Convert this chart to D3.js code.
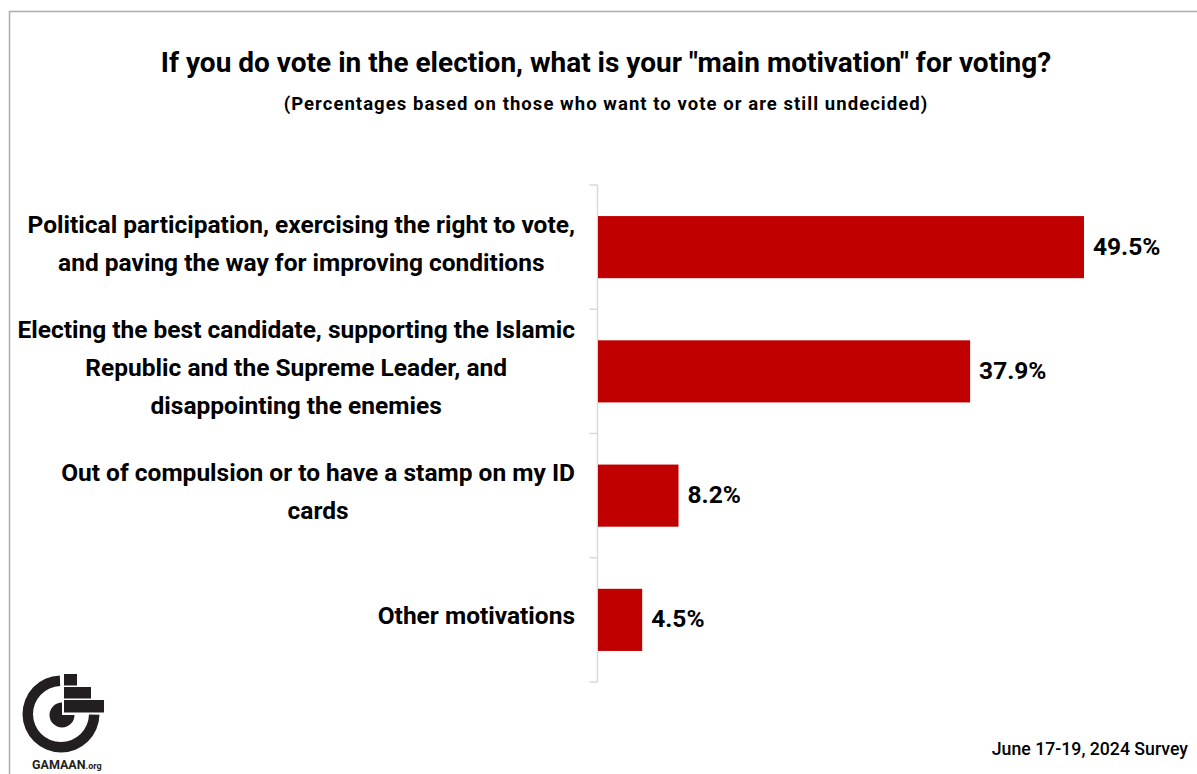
<!DOCTYPE html>
<html>
<head>
<meta charset="utf-8">
<script src="https://cdn.jsdelivr.net/npm/d3@7"></script>
<style>
  html, body { margin: 0; padding: 0; background: #fff; }
  svg { display: block; font-family: Roboto, "Liberation Sans", sans-serif; }
</style>
</head>
<body>
<svg id="chart" width="1197" height="774"></svg>
<script>
// Survey question, answer categories and their shares (percent)
const title = 'If you do vote in the election, what is your "main motivation" for voting?';
const subtitle = "(Percentages based on those who want to vote or are still undecided)";
const categories = [
  "Political participation, exercising the right to vote,|and paving the way for improving conditions",
  "Electing the best candidate, supporting the Islamic|Republic and the Supreme Leader, and|disappointing the enemies",
  "Out of compulsion or to have a stamp on my ID|cards",
  "Other motivations"
];
const values = [49.5, 37.9, 8.2, 4.5];
const footnote = "June 17-19, 2024 Survey";

const svg = d3.select("#chart");
const barColor = "#c00000";

// frame
svg.append("path")
  .attr("d", "M9.5,774 V11.5 H1197")
  .attr("fill", "none")
  .attr("stroke", "#ababab")
  .attr("stroke-width", 1.5);

// titles
svg.append("text")
  .attr("x", 606).attr("y", 72)
  .attr("text-anchor", "middle")
  .attr("font-size", 28).attr("font-weight", 700).attr("fill", "#000")
  .text(title);
svg.append("text")
  .attr("x", 606).attr("y", 110)
  .attr("text-anchor", "middle")
  .attr("font-size", 18.5).attr("font-weight", 700).attr("fill", "#000")
  .attr("letter-spacing", 1.05)
  .text(subtitle);

// scales
const y = d3.scaleBand()
  .domain(categories)
  .range([185, 682])
  .paddingInner(0.5)
  .paddingOuter(0.25);
const x = d3.scaleLinear()
  .domain([0, 60])
  .range([598, 598 + 60 * (486 / 49.5)]);

// category axis line with ticks at band boundaries
const axisX = 597.5;
const gap = y.step() * y.paddingInner() / 2;
const bounds = categories.map(c => y(c) - gap);
bounds.push(y(categories[categories.length - 1]) + y.bandwidth() + gap);
svg.append("line")
  .attr("x1", axisX).attr("x2", axisX)
  .attr("y1", bounds[0]).attr("y2", bounds[bounds.length - 1])
  .attr("stroke", "#d9d9d9").attr("stroke-width", 1.5);
svg.selectAll("line.tick").data(bounds).join("line")
  .attr("class", "tick")
  .attr("x1", axisX - 8).attr("x2", axisX)
  .attr("y1", d => d).attr("y2", d => d)
  .attr("stroke", "#d9d9d9").attr("stroke-width", 1.5);

// bars
svg.selectAll("rect.bar").data(values).join("rect")
  .attr("class", "bar")
  .attr("x", x(0))
  .attr("y", (d, i) => y(categories[i]))
  .attr("width", d => x(d) - x(0))
  .attr("height", y.bandwidth())
  .attr("fill", barColor);

// value labels
svg.selectAll("text.val").data(values).join("text")
  .attr("class", "val")
  .attr("x", d => x(d) + 9)
  .attr("y", (d, i) => y(categories[i]) + y.bandwidth() / 2 + 7.5)
  .attr("font-size", 24.5).attr("font-weight", 700).attr("fill", "#000")
  .text(d => d.toFixed(1) + "%");

// category labels: lines centred within the block, block right-aligned to the axis
const lineH = 38;
const labelRight = 575;
categories.forEach(c => {
  const lines = c.split("|");
  const g = svg.append("g");
  const cy = y(c) + y.bandwidth() / 2 - 3;
  const t = g.selectAll("text").data(lines).join("text")
    .attr("y", (d, i) => cy + (i - (lines.length - 1) / 2) * lineH + 7.5)
    .attr("text-anchor", "middle")
    .attr("font-size", 24.5).attr("font-weight", 700).attr("fill", "#000")
    .text(d => d);
  let w = 0;
  t.each(function() { w = Math.max(w, this.getComputedTextLength()); });
  t.attr("x", labelRight - w / 2);
});

// footnote
svg.append("text")
  .attr("x", 1188).attr("y", 755)
  .attr("text-anchor", "end")
  .attr("font-size", 17.7).attr("font-weight", 500).attr("fill", "#000")
  .text(footnote);

// GAMAAN logo
const logo = svg.append("g").attr("fill", "#231f20");
const cx = 61, cyL = 714;
logo.append("path")
  .attr("transform", `translate(${cx},${cyL})`)
  .attr("d", d3.arc()({ innerRadius: 28, outerRadius: 38.5, startAngle: Math.PI / 2 + 0.02, endAngle: 2 * Math.PI - 0.03 }));
logo.append("path")
  .attr("transform", `translate(${cx + 1},${cyL + 1})`)
  .attr("d", d3.arc()({ innerRadius: 0, outerRadius: 12.5, startAngle: Math.PI / 2, endAngle: 2 * Math.PI }));
logo.append("rect").attr("x", 64).attr("y", 674).attr("width", 13).attr("height", 11.5);
logo.append("rect").attr("x", 64).attr("y", 687).attr("width", 27).attr("height", 11.5);
logo.append("rect").attr("x", 64).attr("y", 700).attr("width", 40).attr("height", 12.5);
const lt = svg.append("text")
  .attr("x", 32).attr("y", 769)
  .attr("font-size", 12.5).attr("font-weight", 700).attr("fill", "#231f20");
lt.append("tspan").text("GAMAAN");
lt.append("tspan").attr("font-size", 9).text(".org");
</script>
</body>
</html>
